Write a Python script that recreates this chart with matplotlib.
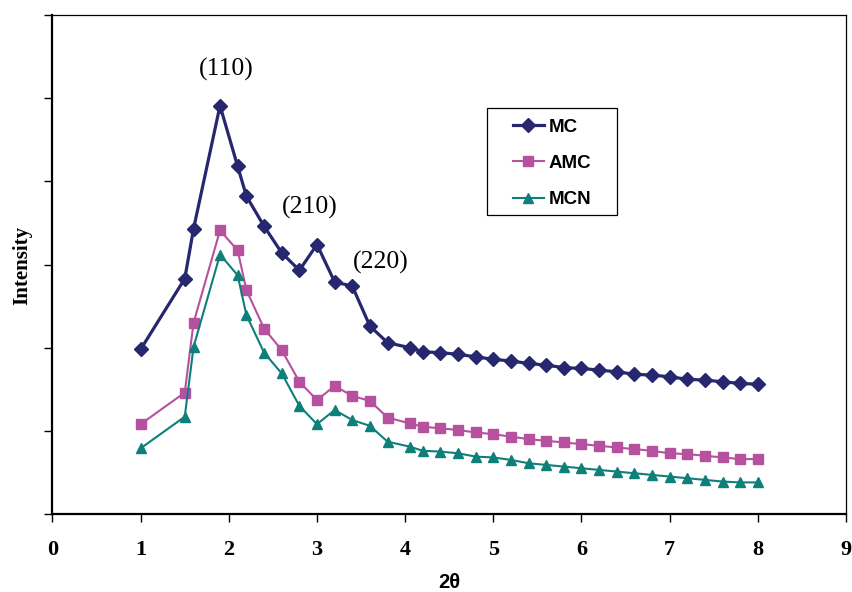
import matplotlib
matplotlib.use("Agg")
import matplotlib.pyplot as plt
from matplotlib.patches import Rectangle

# XRD pattern values (arbitrary intensity units)
two_theta = [1.0, 1.5, 1.6, 1.9, 2.1, 2.2, 2.4, 2.6, 2.8, 3.0, 3.2, 3.4, 3.6, 3.8,
             4.05, 4.2, 4.4, 4.6, 4.8, 5.0, 5.2, 5.4, 5.6, 5.8, 6.0, 6.2, 6.4,
             6.6, 6.8, 7.0, 7.2, 7.4, 7.6, 7.8, 8.0]

mc = [198, 283, 343, 491, 418, 382, 346, 314, 293, 324, 279, 274, 226, 206,
      200, 195, 194, 192, 189, 186, 184, 181, 179, 176, 175, 173, 171,
      168, 167, 165, 162, 161, 159, 157, 156]

amc = [108, 146, 230, 341, 317, 269, 223, 197, 159, 137, 154, 142, 136, 116,
       109, 105, 103, 101, 98, 96, 93, 90, 88, 86, 84, 82, 80,
       78, 76, 73, 72, 70, 68, 66, 66]

mcn = [79, 117, 201, 312, 287, 239, 194, 169, 130, 108, 125, 113, 106, 87,
       81, 76, 75, 73, 69, 68, 65, 61, 59, 57, 55, 53, 51,
       49, 47, 45, 43, 41, 39, 38, 38]

peak_labels = ["(110)", "(210)", "(220)"]
peak_x = [1.97, 2.92, 3.72]
peak_y = [534, 369, 303]

fig = plt.figure(figsize=(8.53, 5.92), dpi=100)
ax = fig.add_axes([52.5 / 853, 1 - 514 / 592, (846 - 52.5) / 853, (514 - 15) / 592])

ax.plot(two_theta, mc, color="#27276F", lw=2.3, marker="D", ms=7, label="MC")
ax.plot(two_theta, amc, color="#B5519F", lw=1.5, marker="s", ms=6.5, label="AMC")
ax.plot(two_theta, mcn, color="#0F7F7A", lw=1.5, marker="^", ms=7.5, label="MCN")

for lab, px, py in zip(peak_labels, peak_x, peak_y):
    ax.text(px, py, lab, ha="center", va="center", fontsize=18.5,
            family="Liberation Serif")

ax.set_xlim(0, 9)
ax.set_ylim(0, 600)
ax.set_xticks(range(10))
ax.set_yticks(range(0, 601, 100))
ax.set_yticklabels([])
for lbl in ax.get_xticklabels():
    lbl.set_family("Liberation Serif")
    lbl.set_fontweight("bold")
    lbl.set_fontsize(16)
ax.tick_params(axis="x", direction="out", length=6, width=1, pad=13)
ax.tick_params(axis="y", direction="out", length=6, width=1)

for side in ["left", "bottom"]:
    ax.spines[side].set_linewidth(1.6)
for side in ["top", "right"]:
    ax.spines[side].set_linewidth(0.9)

fig.text(22 / 853, 1 - 265 / 592, "Intensity", rotation=90, ha="center", va="center",
         fontsize=15, fontweight="bold", family="Liberation Serif")
fig.text(449 / 853, 1 - 583 / 592, "2θ", ha="center", va="center",
         fontsize=14.5, fontweight="bold", family="Liberation Sans")

# legend box drawn separately so the inner spacing matches the original
fig.patches.append(Rectangle((487 / 853, 1 - 215 / 592), 130 / 853, 107 / 592,
                             transform=fig.transFigure, fill=False,
                             edgecolor="black", lw=0.9))
ax.legend(loc="upper left", bbox_to_anchor=(513 / 853, 1 - 118.5 / 592),
          bbox_transform=fig.transFigure, frameon=False, borderpad=0,
          borderaxespad=0, handlelength=1.65, handletextpad=0.27,
          labelspacing=1.03, prop={"family": "Liberation Sans", "weight": "bold", "size": 13.5})

fig.savefig("out.png", dpi=100)
